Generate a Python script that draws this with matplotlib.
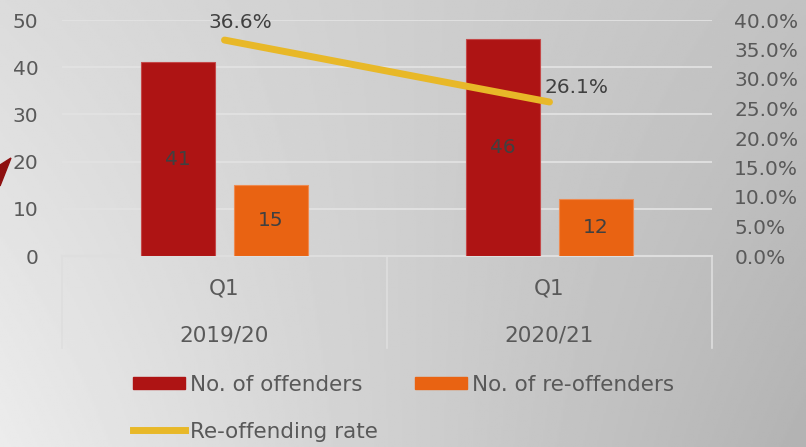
"""
re-offending chart: offenders / re-offenders bars with rate line
"""
import numpy as np
import matplotlib.pyplot as plt
from matplotlib.patches import Patch, Polygon
from matplotlib.lines import Line2D
from matplotlib.ticker import FuncFormatter

years = ['2019/20', '2020/21']
quarters = ['Q1', 'Q1']
offenders = [41, 46]
reoffenders = [15, 12]
rate = [36.6, 26.1]  # percent

RED = '#AE1414'
ORANGE = '#E96312'
GOLD = '#E8B828'
TXT = '#595959'
W, H = 806, 447

plt.rcParams['font.family'] = ['DejaVu Sans']
plt.rcParams['font.size'] = 14


def px(x, y):
    # pixel (from top left) -> figure fraction
    return x / W, 1 - y / H


def main():
    fig = plt.figure(figsize=(W / 100, H / 100), dpi=100)

    # background gradient (row 0 = top)
    bg = fig.add_axes([0, 0, 1, 1], zorder=-10)
    gx = np.linspace(0, 1, 400)
    gy = np.linspace(0, 1, 220)
    gxx, gyy = np.meshgrid(gx, gy)
    top = 0.86 - 0.10 * gxx
    bottom = 0.925 - 0.225 * gxx
    shade = (1 - gyy) * top + gyy * bottom
    bg.imshow(shade, cmap='gray', vmin=0, vmax=1, aspect='auto',
              extent=[0, 1, 0, 1], origin='upper')
    bg.axis('off')
    # arrow fragment at left edge
    bg.add_patch(Polygon([px(0, 165), px(11, 158), px(0, 186)],
                         closed=True, color='#8E1010',
                         transform=fig.transFigure))

    x0, y0 = px(62, 256)
    x1, y1 = px(712, 20)
    ax = fig.add_axes([x0, y0, x1 - x0, y1 - y0])
    ax.set_facecolor('none')

    cats = np.arange(len(years)) + 0.5
    bw = 0.225
    off = 0.143
    b1 = ax.bar(cats - off, offenders, bw, color=RED, edgecolor='#c44848',
                linewidth=0.8, zorder=3)
    b2 = ax.bar(cats + off, reoffenders, bw, color=ORANGE, edgecolor='#ee8a50',
                linewidth=0.8, zorder=3)
    for bars in (b1, b2):
        for b in bars:
            ax.text(b.get_x() + b.get_width() / 2, b.get_height() / 2,
                    str(int(b.get_height())), ha='center', va='center',
                    color='#404040', fontsize=14.5, zorder=5)

    ax.set_xlim(0, 2)
    ax.set_ylim(0, 50)
    ax.set_yticks(range(0, 51, 10))
    ax.set_xticks([])
    ax.tick_params(axis='y', length=0, pad=17, colors=TXT, labelsize=14.5)
    ax.grid(axis='y', color='#e2e2e2', linewidth=1.3, zorder=0)
    for s in ax.spines.values():
        s.set_visible(False)

    # two-level category axis
    tr = ax.get_xaxis_transform()
    ax.plot([0, 2], [0, 0], transform=tr, color='#dedede', lw=1.5,
            clip_on=False, zorder=2)
    for xv in [0, 1, 2]:
        ax.plot([xv, xv], [0, -0.39], transform=tr, color='#dedede', lw=1.2,
                clip_on=False)
    for c, q, yr in zip(cats, quarters, years):
        ax.text(c, -0.136, q, transform=tr, ha='center', va='center',
                color=TXT, fontsize=15.5)
        ax.text(c, -0.335, yr, transform=tr, ha='center', va='center',
                color=TXT, fontsize=15.5)

    ax2 = ax.twinx()
    ax2.set_ylim(0, 40)
    ax2.set_yticks(np.arange(0, 40.1, 5))
    ax2.yaxis.set_major_formatter(FuncFormatter(lambda v, p: f'{v:.1f}%'))
    ax2.tick_params(axis='y', length=0, pad=16, colors=TXT, labelsize=14.5)
    for s in ax2.spines.values():
        s.set_visible(False)
    ax2.plot(cats, rate, color=GOLD, lw=5, solid_capstyle='round', zorder=4)
    ax2.text(cats[0] - 0.05, rate[0] + 1.3, f'{rate[0]:.1f}%', ha='left',
             va='bottom', color='#404040', fontsize=14.5)
    ax2.text(cats[1] - 0.015, rate[1] + 0.8, f'{rate[1]:.1f}%', ha='left',
             va='bottom', color='#404040', fontsize=14.5)

    handles = [Patch(color=RED), Line2D([], [], color=GOLD, lw=5),
               Patch(color=ORANGE)]
    labels = ['No. of offenders', 'Re-offending rate', 'No. of re-offenders']
    fig.legend(handles, labels, ncol=2, loc='upper left',
               bbox_to_anchor=px(124, 366), frameon=False, borderaxespad=0,
               handlelength=2.42, handleheight=0.55, handletextpad=0.23,
               columnspacing=1.75, labelspacing=1.25, labelcolor=TXT,
               fontsize=15.5)

    fig.savefig('out.png', dpi=100)


if __name__ == '__main__':
    main()
